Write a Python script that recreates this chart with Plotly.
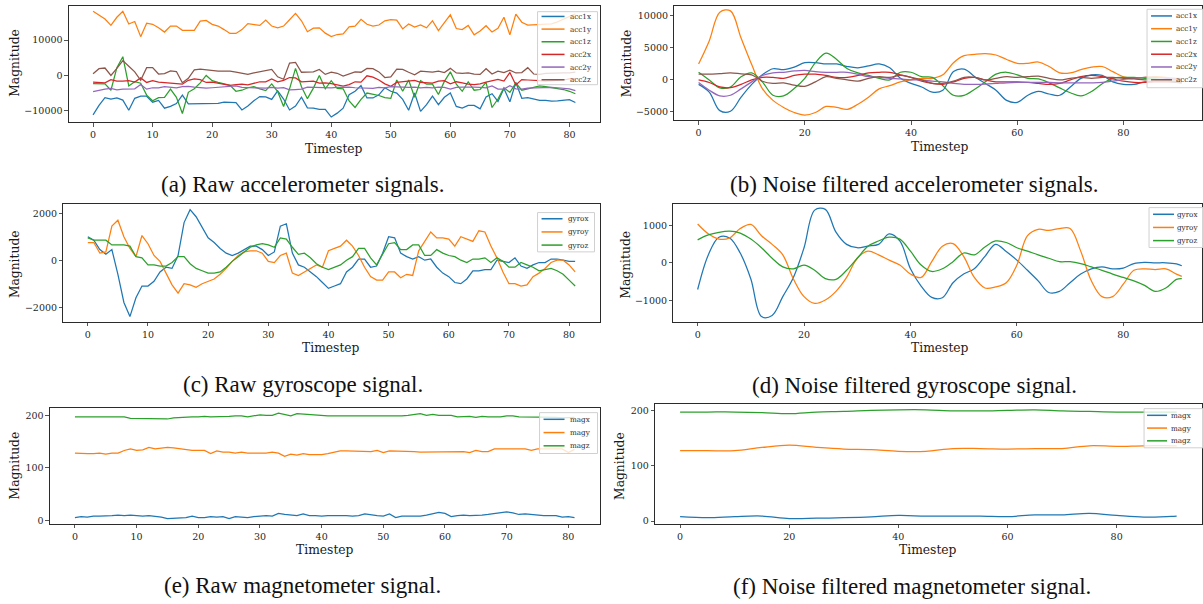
import plotly.graph_objects as go

W, H = 1203, 604

# ---------------- data ----------------
t_raw = list(range(82))
t_filt = list(range(0, 91, 2)) + [91]
t_magf = list(range(0, 91, 5)) + [91]

acc_names = ["acc1x", "acc1y", "acc1z", "acc2x", "acc2y", "acc2z"]
gyro_names = ["gyrox", "gyroy", "gyroz"]
mag_names = ["magx", "magy", "magz"]

acc1x_raw = [-11200,-8500,-6300,-6700,-6400,-7000,-9900,-6500,-5900,-5900,
             -7600,-7100,-9300,-8800,-8000,-5600,-8100,-8100,-8000,-7900,
             -8000,-7900,-7600,-7600,-7700,-9800,-8700,-7200,-6000,-6100,
             -6800,-4400,-6700,-9800,-8700,-6200,-9200,-9300,-9600,-9600,
             -11800,-10700,-9300,-5500,-4500,-2900,-6400,-6400,-5500,-3500,
             -4500,-5000,-6800,-9900,-5000,-10200,-8300,-5900,-8300,-6200,
             -5000,-8800,-9300,-8500,-8500,-9500,-6100,-5200,-7400,-3700,
             -7500,-2000,-6500,-6300,-6800,-7100,-7100,-7300,-7200,-7100,
             -6900,-7700]
acc1y_raw = [18200,17200,16000,14200,16500,18200,14600,15300,11000,14800,
             14500,13500,12300,14000,14000,12800,12900,12800,15400,15600,
             14500,14000,13000,11900,11900,13000,14700,14500,14200,15700,
             14000,13500,14000,15800,17600,15500,12400,13400,13500,12000,
             11000,11600,11800,13800,14000,15900,14500,14000,14300,15500,
             15800,15700,13200,14600,13700,14300,13500,15500,12700,15000,
             17200,13300,13000,14200,11500,12600,14100,12300,13400,16500,
             11500,17400,15100,14300,14400,14500,14400,14600,15200,16000,
             16800,17500]
acc1z_raw = [-2300,-2300,-2400,-4200,2200,5300,-3000,-1800,-2200,-5600,
             -7200,-6300,-6200,-3900,-6200,-10800,-4800,-3800,-2100,0,
             -1500,-2000,-2500,-2800,-4500,-4200,-3500,-3200,-3800,-4300,
             -2400,-4600,-8800,-3800,2000,-3200,-6600,-3600,0,-3800,
             -1500,-3700,-3800,-7200,-9100,-6800,-5000,-5300,-5700,-6300,
             -6500,-1300,-4500,-1300,-6200,-1500,-2500,-2500,-5400,-1700,
             1000,-2500,-4500,-1800,-4200,-4000,-2000,-9100,-6700,-3500,
             -4800,-2200,-4200,-3800,-3400,-3000,-3200,-3500,-3600,-4000,
             -4500,-5200]
acc2x_raw = [-1900,-2000,-2100,-1200,-1600,-1600,-1500,-1900,-700,-2000,
             -1500,-1900,-2000,-2200,-2400,-2500,-1400,-1000,-1200,-2000,
             -1900,-2200,-2500,-2800,-2600,-2500,-2700,-2300,-1800,-1800,
             -1000,-1800,-1400,-600,-700,-1800,-1800,-1600,-2200,-2100,
             -2300,-2600,-3000,-2600,-1800,-1900,-100,-500,-1300,-2400,
             -3100,-2000,-1800,-1800,-1400,-2000,-2100,-2200,-1600,-1500,
             -2400,-1800,-2100,-2500,-2600,-2400,-1900,-1600,-1100,-1600,
             800,-2700,-1200,-1300,-1300,-1500,-1600,-1500,-1500,-1300,
             -1000,-900]
acc2y_raw = [-4600,-4200,-3900,-3700,-4100,-3900,-3900,-3800,-2600,-3900,
             -3500,-3500,-3200,-3400,-3500,-3200,-3100,-3300,-3500,-3600,
             -3500,-3400,-3400,-3300,-3000,-3400,-3500,-3400,-3500,-3600,
             -3400,-3600,-3500,-4100,-4000,-3900,-3300,-3400,-3300,-3600,
             -3500,-3400,-3300,-3300,-3500,-3600,-3800,-3700,-3400,-3500,
             -3200,-3300,-3300,-3400,-3300,-3500,-3400,-3500,-3300,-3400,
             -3900,-3400,-3300,-3200,-3300,-3400,-3500,-3000,-3900,-3900,
             -2900,-3800,-3900,-3600,-3500,-3600,-3500,-3400,-3500,-3600,
             -3800,-4300]
acc2z_raw = [500,1900,2100,0,2000,4200,2600,1000,-1400,2200,
             2200,400,500,1300,1100,-2100,-800,1600,1800,1600,
             1300,1200,1200,1200,900,600,300,700,1000,1400,
             1700,-400,-1100,3500,3700,900,1000,1000,1700,300,
             900,600,-200,400,1000,900,2000,1900,1000,-600,
             -400,1800,1700,900,200,1200,1100,900,1200,800,
             2000,700,600,700,400,300,1900,400,1200,800,
             1500,700,800,2200,400,300,600,700,800,700,
             700,900]

acc1x_filt = [-800,-2000,-4900,-5000,-2800,-800,700,1650,1500,1900,
              2600,2600,2400,2400,2000,1800,2100,2400,1800,150,
              -650,-1200,-2000,-1700,1200,1600,400,-650,-1700,-3300,
              -3600,-2500,-1900,-2300,-2500,-1200,150,700,600,-400,
              -800,-800,-400,-300,-300,-500,-600]
acc1y_filt = [2400,6000,10500,10700,6450,2300,-1450,-3300,-4400,-5200,
              -5600,-5200,-4250,-4400,-4700,-3900,-2800,-1500,-1000,-400,
              -100,150,150,700,2600,3700,3900,4000,3800,3100,
              2500,2500,2700,2000,1000,1000,1500,1900,2000,1200,
              400,150,300,400,300,150,150]
acc1z_filt = [1100,-100,-1350,-1200,400,1000,-400,-2500,-2600,-1450,
              150,2600,4100,3100,1650,1000,600,150,-100,1100,
              1100,400,300,-1000,-2500,-2500,-1550,-400,800,1100,
              700,150,50,-550,-1350,-2100,-2600,-1900,-700,150,
              300,300,150,50,-100,-400,-400]
acc2x_filt = [-100,-500,-1200,-1300,-800,-100,300,300,150,600,
              800,800,600,300,300,600,1000,1100,1100,700,
              300,-300,-650,-800,-400,150,300,-100,-400,-400,
              -400,-500,-650,-800,-650,-100,400,600,400,50,
              -300,-500,-500,-400,-400,-400,-400]
acc2y_filt = [-500,-1700,-2600,-2500,-1500,-400,600,1000,1100,1300,
              1400,1200,1100,1100,1100,800,400,300,150,50,
              -100,-100,-300,-400,-650,-800,-800,-750,-650,-550,
              -500,-500,-500,-500,-550,-550,-550,-550,-500,-300,
              0,150,300,300,150,50,50]
acc2z_filt = [800,800,900,1000,850,700,-300,-650,-550,-900,
              -1100,-400,400,150,-100,-300,150,400,300,600,
              300,-100,-650,-650,-300,300,300,-100,150,400,
              300,400,500,150,-100,150,300,150,300,300,
              150,50,-100,-100,-100,-100,-100]

gyrox_raw = [1000,850,450,250,450,-600,-1800,-2400,-1600,-1100,
             -1100,-900,-500,-300,-350,200,1600,2150,1850,1400,
             950,750,500,300,200,300,450,600,600,450,
             200,350,1450,1550,300,-200,-300,-500,-700,-950,
             -1200,-1100,-1000,-500,-300,50,50,-300,-250,300,
             1000,950,300,150,50,150,0,50,-300,-550,
             -700,-950,-1000,-800,-450,-450,-400,-400,0,-50,
             -100,100,-250,-350,-200,-100,-100,50,50,0,
             -50,-50]
gyroy_raw = [750,750,300,350,1450,1700,1000,500,150,1050,
             700,200,-50,-550,-1050,-1400,-1000,-1050,-1150,-1000,
             -900,-800,-600,-350,-50,200,350,400,400,300,
             -50,-100,200,300,-550,-650,-500,-350,-200,-300,
             400,500,600,850,600,200,-300,-700,-850,-850,
             -500,-500,-750,-600,-650,400,800,1200,950,950,
             900,600,1000,900,800,1250,1200,600,100,-500,
             -1000,-1000,-1100,-1050,-700,-550,-350,-100,0,0,
             -200,-500]
gyroz_raw = [950,850,850,850,650,650,650,600,150,100,
             -200,-200,-250,-250,-100,150,150,-150,-350,-450,
             -550,-550,-500,-300,-50,150,350,550,650,700,
             650,550,950,900,550,250,300,100,-150,-300,
             -400,-300,-200,0,150,500,500,100,-200,250,
             700,750,450,450,650,650,200,200,450,300,
             200,150,0,-100,50,50,100,-100,100,-50,
             -300,-300,-100,-200,-300,-450,-400,-350,-450,-600,
             -850,-1100]

gyrox_filt = [-710,210,680,660,260,-430,-1430,-1400,-900,-390,
              400,1400,1420,815,490,400,445,490,770,580,
              -160,-620,-920,-930,-530,-300,-160,170,490,300,
              70,-200,-480,-790,-760,-530,-300,-160,-110,-160,
              -140,-20,10,0,0,-30,-80]
gyroy_filt = [1030,770,630,660,910,1020,720,490,210,-430,
              -900,-1080,-990,-760,-390,120,310,210,70,-60,
              -300,-390,30,440,510,170,-390,-670,-640,-530,
              -60,720,890,860,910,910,310,-480,-900,-900,
              -570,-200,-160,-180,-160,-300,-360]
gyroz_filt = [610,740,810,840,790,630,400,120,-110,-160,
              -60,-200,-420,-440,-200,120,440,580,680,630,
              310,-60,-230,-160,30,260,210,420,580,540,
              400,310,210,120,30,30,-20,-110,-200,-300,
              -390,-480,-600,-760,-670,-440,-420]

magx_raw = [5,7,6,8,8,8,9,10,9,10,
            9,8,9,8,6,3,4,5,5,8,
            5,5,7,6,7,3,7,6,5,7,
            8,9,8,13,11,10,9,12,9,9,
            8,9,9,10,9,8,9,12,10,9,
            8,12,5,8,8,8,8,10,13,15,
            13,7,9,10,9,9,10,11,13,15,
            16,14,11,12,11,9,9,9,9,6,
            7,5]
magy_raw = [128,127,127,127,128,126,128,128,133,136,
            133,134,139,136,137,139,138,136,134,133,
            133,133,127,132,130,130,128,130,128,128,
            128,128,130,128,122,126,124,127,125,125,
            125,127,129,132,132,132,131,131,131,133,
            129,132,132,131,131,131,130,130,130,131,
            130,131,131,131,129,133,131,131,136,136,
            137,136,136,136,133,136,136,136,136,136,
            129,135]
magz_raw = [197,197,197,197,197,198,197,197,197,194,
            194,194,193,193,193,193,195,196,197,197,
            197,198,197,197,197,198,199,199,197,199,
            201,200,200,204,201,199,203,202,201,201,
            199,199,199,199,198,198,198,198,198,198,
            199,199,199,199,200,201,203,200,202,200,
            200,200,197,198,198,196,198,197,197,197,
            199,199,197,197,197,196,197,196,196,195,
            196,196]

magx_filt = [8,6,8,9,4.5,5,6,7.5,10,9,9,9,8,11,11,14,10,7,8.5,9]
magy_filt = [127,127,127,133,137,133,130,129,126,126,131,131,130,131,131,136,135,136,136,136]
magz_filt = [197,197,197,196,194,197,198,200,201,201,199,199,200,201,199,198,197,197,197,197]

captions = ["(a) Raw accelerometer signals.", "(b) Noise filtered accelerometer signals.",
            "(c) Raw gyroscope signal.", "(d) Noise filtered gyroscope signal.",
            "(e) Raw magnetometer signal.", "(f) Noise filtered magnetometer signal."]

# ---------------- styling ----------------
COLORS = ["#1f77b4", "#ff7f0e", "#2ca02c", "#d62728", "#9467bd", "#8c564b"]
SERIF = "DejaVu Serif"
TICK_FONT = dict(family=SERIF, size=9.5, color="#262626")
AX_COLOR = "#2b2b2b"

fig = go.Figure()

def px(x):
    return x / W

def py(y):
    return 1 - y / H

panels = [
    dict(t=t_raw, ys=[acc1x_raw, acc1y_raw, acc1z_raw, acc2x_raw, acc2y_raw, acc2z_raw], names=acc_names,
         frame=(69, 600, 6, 122.7), xdt=10, ytv=[-10000, 0, 10000], spline=False,
         leg=dict(box=(538, 598, 11.7, 85), y0=16.5, dy=12.7, lx=(542, 565), tx=569),
         ylab=(15, 63), cap=(303, 185)),
    dict(t=t_filt, ys=[acc1x_filt, acc1y_filt, acc1z_filt, acc2x_filt, acc2y_filt, acc2z_filt], names=acc_names,
         frame=(675, 1207, 5.7, 120.7), xdt=20, ytv=[-5000, 0, 5000, 10000], spline=True,
         leg=dict(box=(1148, 1212, 9.3, 88), y0=16, dy=12.8, lx=(1152, 1173), tx=1176),
         ylab=(627, 63), cap=(915, 185)),
    dict(t=t_raw, ys=[gyrox_raw, gyroy_raw, gyroz_raw], names=gyro_names,
         frame=(63.5, 600, 205, 323), xdt=10, ytv=[-2000, 0, 2000], spline=False,
         leg=dict(box=(538, 595, 213.3, 252.7), y0=219.5, dy=13.2, lx=(542, 563), tx=567),
         ylab=(15, 265), cap=(303, 386)),
    dict(t=t_filt, ys=[gyrox_filt, gyroy_filt, gyroz_filt], names=gyro_names,
         frame=(674, 1207, 204.7, 323), xdt=20, ytv=[-1000, 0, 1000], spline=True,
         leg=dict(box=(1150, 1212, 208.3, 248.3), y0=215, dy=13.2, lx=(1154, 1175), tx=1177),
         ylab=(627, 265), cap=(915, 387)),
    dict(t=t_raw, ys=[magx_raw, magy_raw, magz_raw], names=mag_names,
         frame=(50, 600, 409.3, 525.7), xdt=10, ytv=[0, 100, 200], spline=False,
         leg=dict(box=(540, 598, 414, 455), y0=420.7, dy=13.3, lx=(544, 565), tx=569),
         ylab=(15, 467), cap=(303, 587)),
    dict(t=t_magf, ys=[magx_filt, magy_filt, magz_filt], names=mag_names,
         frame=(655.8, 1202.5, 405.7, 525.7), xdt=20, ytv=[0, 100, 200], spline=True,
         leg=dict(box=(1145, 1212, 410, 449.3), y0=416.7, dy=12.8, lx=(1148, 1168), tx=1171),
         ylab=(621, 467), cap=(913, 588)),
]

shapes = []
annotations = []
layout_axes = {}

for i, p in enumerate(panels, start=1):
    xa = "x" if i == 1 else f"x{i}"
    ya = "y" if i == 1 else f"y{i}"
    x0, x1, y0, y1 = p["frame"]
    tmin, tmax = min(p["t"]), max(p["t"])
    tpad = 0.05 * (tmax - tmin)
    xlo, xhi = tmin - tpad, tmax + tpad
    if x1 > W:  # frame runs past the page edge: keep the data scale, clip the frame
        xhi = xlo + (xhi - xlo) * (W - x0) / (x1 - x0)
        x1 = W
    allv = [v for s in p["ys"] for v in s]
    vmin, vmax = min(allv), max(allv)
    vpad = 0.05 * (vmax - vmin)

    for k, (name, s) in enumerate(zip(p["names"], p["ys"])):
        line = dict(color=COLORS[k], width=1.25)
        if p["spline"]:
            line.update(shape="spline", smoothing=1.0)
        fig.add_trace(go.Scatter(x=p["t"], y=s, mode="lines", name=name, line=line,
                                 xaxis=xa, yaxis=ya, showlegend=False, hoverinfo="skip"))

    axcommon = dict(showline=True, mirror=True, linecolor=AX_COLOR, linewidth=1,
                    ticks="outside", ticklen=3.5, tickwidth=0.8, tickcolor=AX_COLOR,
                    tickfont=TICK_FONT, showgrid=False, zeroline=False, fixedrange=True,
                    tickformat="d")
    layout_axes["xaxis" if i == 1 else f"xaxis{i}"] = dict(
        domain=[px(x0), min(1.0, px(x1))], anchor=ya, range=[xlo, xhi],
        tickmode="array", tickvals=list(range(0, 81, p["xdt"])), **axcommon)
    layout_axes["yaxis" if i == 1 else f"yaxis{i}"] = dict(
        domain=[py(y1), py(y0)], anchor=xa, range=[vmin - vpad, vmax + vpad],
        tickmode="array", tickvals=p["ytv"], **axcommon)

    fx0, fx1 = p["frame"][0], p["frame"][1]
    annotations.append(dict(text="Timestep", x=px((fx0 + fx1) / 2), y=py(y1 + 26.5),
                            xref="paper", yref="paper", showarrow=False, xanchor="center", yanchor="middle",
                            font=dict(family=SERIF, size=12.3, color="#1a1a1a")))
    annotations.append(dict(text="Magnitude", x=px(p["ylab"][0]), y=py(p["ylab"][1]),
                            xref="paper", yref="paper", showarrow=False, textangle=-90,
                            xanchor="center", yanchor="middle",
                            font=dict(family=SERIF, size=12.3, color="#1a1a1a")))
    annotations.append(dict(text=captions[i - 1], x=px(p["cap"][0]), y=py(p["cap"][1]),
                            xref="paper", yref="paper", showarrow=False, xanchor="center", yanchor="middle",
                            font=dict(family="Liberation Serif", size=23, color="#111111")))

    lg = p["leg"]
    bx0, bx1, by0, by1 = lg["box"]
    shapes.append(dict(type="rect", xref="paper", yref="paper", x0=px(bx0), x1=px(bx1),
                       y0=py(by1), y1=py(by0), fillcolor="rgba(255,255,255,0.8)",
                       line=dict(color="#d0d0d0", width=1), layer="above"))
    for k, name in enumerate(p["names"]):
        yy = lg["y0"] + k * lg["dy"]
        shapes.append(dict(type="line", xref="paper", yref="paper", x0=px(lg["lx"][0]), x1=px(lg["lx"][1]),
                           y0=py(yy), y1=py(yy), line=dict(color=COLORS[k], width=1.5), layer="above"))
        annotations.append(dict(text=name, x=px(lg["tx"]), y=py(yy), xref="paper", yref="paper",
                                showarrow=False, xanchor="left", yanchor="middle", borderpad=0,
                                font=dict(family=SERIF, size=7.2, color="#262626")))

fig.update_layout(
    width=W, height=H, margin=dict(l=0, r=0, t=0, b=0),
    paper_bgcolor="white", plot_bgcolor="white",
    showlegend=False, shapes=shapes, annotations=annotations,
    **layout_axes,
)

fig.write_html(
    "out.html",
    config={"displayModeBar": False, "staticPlot": True},
    post_script="document.body.style.margin='0px';document.body.style.padding='0px';"
                "document.documentElement.style.overflow='hidden';",
)
